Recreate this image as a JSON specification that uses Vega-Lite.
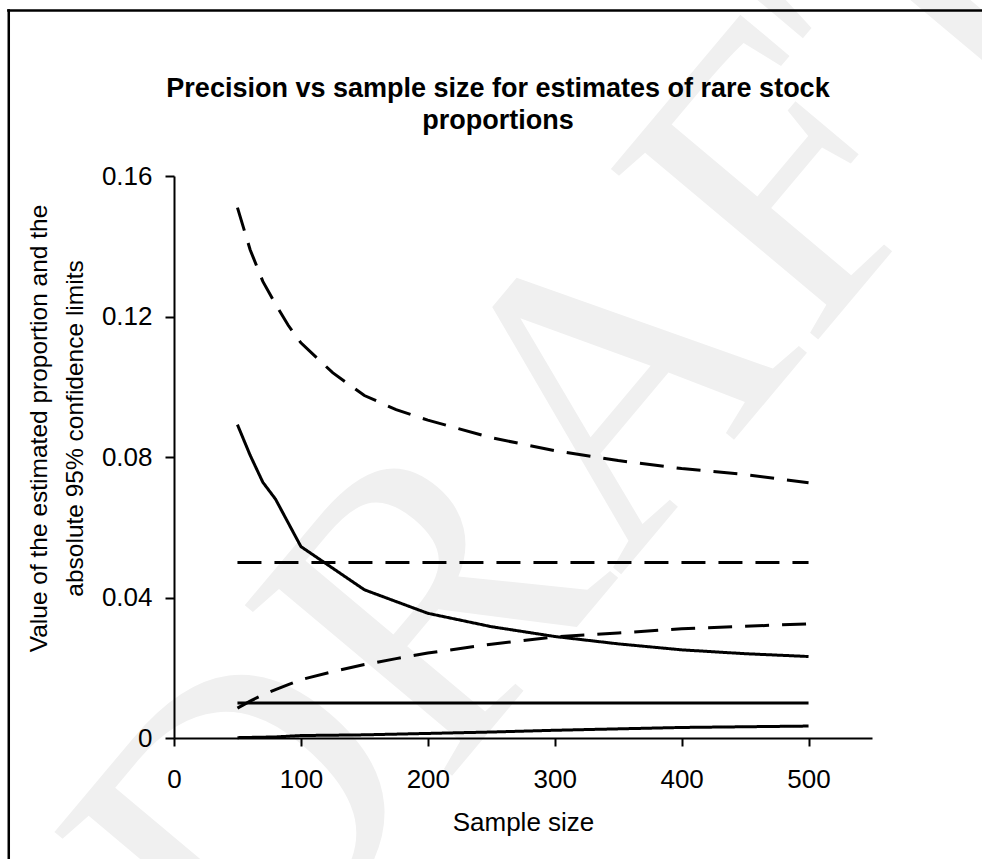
{
  "$schema": "https://vega.github.io/schema/vega-lite/v6.json",
  "width": 982,
  "height": 859,
  "autosize": "none",
  "padding": 0,
  "background": "white",
  "config": {
    "view": {"stroke": null},
    "font": "Liberation Sans",
    "axis": {"grid": false, "labelOverlap": false, "labelFlush": false, "labelBound": false, "zindex": 1}
  },
  "title": {
    "text": ["Precision vs sample size for estimates of rare stock", "proportions"],
    "font": "Liberation Sans",
    "fontSize": 27,
    "fontWeight": "bold",
    "color": "black",
    "lineHeight": 32,
    "anchor": "middle",
    "frame": "group",
    "offset": -135,
    "dx": 7
  },
  "datasets": {
    "ci": [
      {"n": 50, "p": "0.05", "k": "upper", "v": 0.151},
      {"n": 60, "p": "0.05", "k": "upper", "v": 0.139},
      {"n": 70, "p": "0.05", "k": "upper", "v": 0.130},
      {"n": 80, "p": "0.05", "k": "upper", "v": 0.1235},
      {"n": 90, "p": "0.05", "k": "upper", "v": 0.1175},
      {"n": 100, "p": "0.05", "k": "upper", "v": 0.1125},
      {"n": 125, "p": "0.05", "k": "upper", "v": 0.104},
      {"n": 150, "p": "0.05", "k": "upper", "v": 0.0975},
      {"n": 175, "p": "0.05", "k": "upper", "v": 0.0935},
      {"n": 200, "p": "0.05", "k": "upper", "v": 0.0905},
      {"n": 250, "p": "0.05", "k": "upper", "v": 0.0855},
      {"n": 300, "p": "0.05", "k": "upper", "v": 0.0818},
      {"n": 350, "p": "0.05", "k": "upper", "v": 0.079},
      {"n": 400, "p": "0.05", "k": "upper", "v": 0.0767},
      {"n": 450, "p": "0.05", "k": "upper", "v": 0.075},
      {"n": 500, "p": "0.05", "k": "upper", "v": 0.0727},
      {"n": 50, "p": "0.05", "k": "estimate", "v": 0.05},
      {"n": 500, "p": "0.05", "k": "estimate", "v": 0.05},
      {"n": 50, "p": "0.05", "k": "lower", "v": 0.0085},
      {"n": 60, "p": "0.05", "k": "lower", "v": 0.0105},
      {"n": 70, "p": "0.05", "k": "lower", "v": 0.0123},
      {"n": 80, "p": "0.05", "k": "lower", "v": 0.0138},
      {"n": 90, "p": "0.05", "k": "lower", "v": 0.0152},
      {"n": 100, "p": "0.05", "k": "lower", "v": 0.0166},
      {"n": 125, "p": "0.05", "k": "lower", "v": 0.0189},
      {"n": 150, "p": "0.05", "k": "lower", "v": 0.0209},
      {"n": 175, "p": "0.05", "k": "lower", "v": 0.0226},
      {"n": 200, "p": "0.05", "k": "lower", "v": 0.0242},
      {"n": 250, "p": "0.05", "k": "lower", "v": 0.0267},
      {"n": 300, "p": "0.05", "k": "lower", "v": 0.0288},
      {"n": 350, "p": "0.05", "k": "lower", "v": 0.0299},
      {"n": 400, "p": "0.05", "k": "lower", "v": 0.0311},
      {"n": 450, "p": "0.05", "k": "lower", "v": 0.0318},
      {"n": 500, "p": "0.05", "k": "lower", "v": 0.0325},
      {"n": 50, "p": "0.01", "k": "upper", "v": 0.0892},
      {"n": 60, "p": "0.01", "k": "upper", "v": 0.0805},
      {"n": 70, "p": "0.01", "k": "upper", "v": 0.0728},
      {"n": 80, "p": "0.01", "k": "upper", "v": 0.068},
      {"n": 100, "p": "0.01", "k": "upper", "v": 0.0545},
      {"n": 150, "p": "0.01", "k": "upper", "v": 0.0422},
      {"n": 200, "p": "0.01", "k": "upper", "v": 0.0355},
      {"n": 250, "p": "0.01", "k": "upper", "v": 0.0317},
      {"n": 300, "p": "0.01", "k": "upper", "v": 0.0289},
      {"n": 350, "p": "0.01", "k": "upper", "v": 0.0268},
      {"n": 400, "p": "0.01", "k": "upper", "v": 0.0251},
      {"n": 450, "p": "0.01", "k": "upper", "v": 0.024},
      {"n": 500, "p": "0.01", "k": "upper", "v": 0.0232},
      {"n": 50, "p": "0.01", "k": "estimate", "v": 0.01},
      {"n": 500, "p": "0.01", "k": "estimate", "v": 0.01},
      {"n": 50, "p": "0.01", "k": "lower", "v": 0.0001},
      {"n": 80, "p": "0.01", "k": "lower", "v": 0.0003},
      {"n": 100, "p": "0.01", "k": "lower", "v": 0.0007},
      {"n": 150, "p": "0.01", "k": "lower", "v": 0.0009},
      {"n": 200, "p": "0.01", "k": "lower", "v": 0.0013},
      {"n": 250, "p": "0.01", "k": "lower", "v": 0.0017},
      {"n": 300, "p": "0.01", "k": "lower", "v": 0.0022},
      {"n": 350, "p": "0.01", "k": "lower", "v": 0.0026},
      {"n": 400, "p": "0.01", "k": "lower", "v": 0.003},
      {"n": 450, "p": "0.01", "k": "lower", "v": 0.0032},
      {"n": 500, "p": "0.01", "k": "lower", "v": 0.0034}
    ]
  },
  "layer": [
    {
      "data": {"values": [{"label": "DRAFT"}]},
      "mark": {"type": "text", "font": "Liberation Serif", "fontSize": 410, "angle": 310, "align": "center", "baseline": "middle", "color": "#f0f0f0", "clip": true},
      "encoding": {
        "x": {"datum": 328, "type": "quantitative"},
        "y": {"datum": 0.0906, "type": "quantitative"},
        "text": {"field": "label"}
      }
    },
    {
      "data": {"name": "ci"},
      "mark": {"type": "line", "color": "black", "strokeWidth": 3, "strokeCap": "butt"},
      "encoding": {
        "x": {
          "field": "n", "type": "quantitative",
          "scale": {"domain": [0, 550], "range": [174, 872], "nice": false, "zero": false},
          "axis": {
            "title": "Sample size", "values": [0, 100, 200, 300, 400, 500],
            "offset": -121, "zindex": 1, "domainColor": "black", "domainWidth": 2,
            "tickColor": "black", "tickWidth": 2, "tickSize": 8,
            "labelFont": "Liberation Sans", "labelFontSize": 26, "labelColor": "black",
            "labelBaseline": "alphabetic", "labelPadding": 41, "labelFlush": false, "labelOverlap": false,
            "titleFont": "Liberation Sans", "titleFontSize": 26, "titleFontWeight": "normal", "titleColor": "black",
            "titleX": 523, "titleY": 92, "titleBaseline": "alphabetic", "titleAlign": "center"
          }
        },
        "y": {
          "field": "v", "type": "quantitative",
          "scale": {"domain": [0, 0.16], "range": [738, 176], "nice": false, "zero": false},
          "axis": {
            "title": ["Value of the estimated proportion and the", "absolute 95% confidence limits"],
            "values": [0, 0.04, 0.08, 0.12, 0.16],
            "format": ".2~f",
            "offset": -174, "zindex": 1, "domainColor": "black", "domainWidth": 2,
            "tickColor": "black", "tickWidth": 2, "tickSize": 9,
            "labelFont": "Liberation Sans", "labelFontSize": 26, "labelColor": "black",
            "labelPadding": 13, "labelFlush": false, "labelOverlap": false, "labelBound": false,
            "labelBaseline": "middle", "labelAlign": "right",
            "titleFont": "Liberation Sans", "titleFontSize": 24.5, "titleFontWeight": "normal", "titleColor": "black",
            "titleAngle": -90, "titleX": -128, "titleY": 428, "titleBaseline": "alphabetic", "titleAlign": "center", "titleLineHeight": 36
          }
        },
        "detail": {"field": "k", "type": "nominal"},
        "strokeDash": {
          "field": "p", "type": "nominal",
          "scale": {"domain": ["0.05", "0.01"], "range": [[24, 13], [1, 0]]},
          "legend": null
        }
      }
    },
    {
      "data": {"values": [{}]},
      "mark": {"type": "rule", "color": "black", "strokeWidth": 2.5},
      "encoding": {
        "x": {"datum": -131.5, "type": "quantitative"},
        "x2": {"datum": 700},
        "y": {"datum": 0.2071, "type": "quantitative"}
      }
    },
    {
      "data": {"values": [{}]},
      "mark": {"type": "rule", "color": "black", "strokeWidth": 2.5},
      "encoding": {
        "x": {"datum": -130.2, "type": "quantitative"},
        "y": {"datum": 0.2075, "type": "quantitative"},
        "y2": {"datum": -0.05}
      }
    }
  ]
}
